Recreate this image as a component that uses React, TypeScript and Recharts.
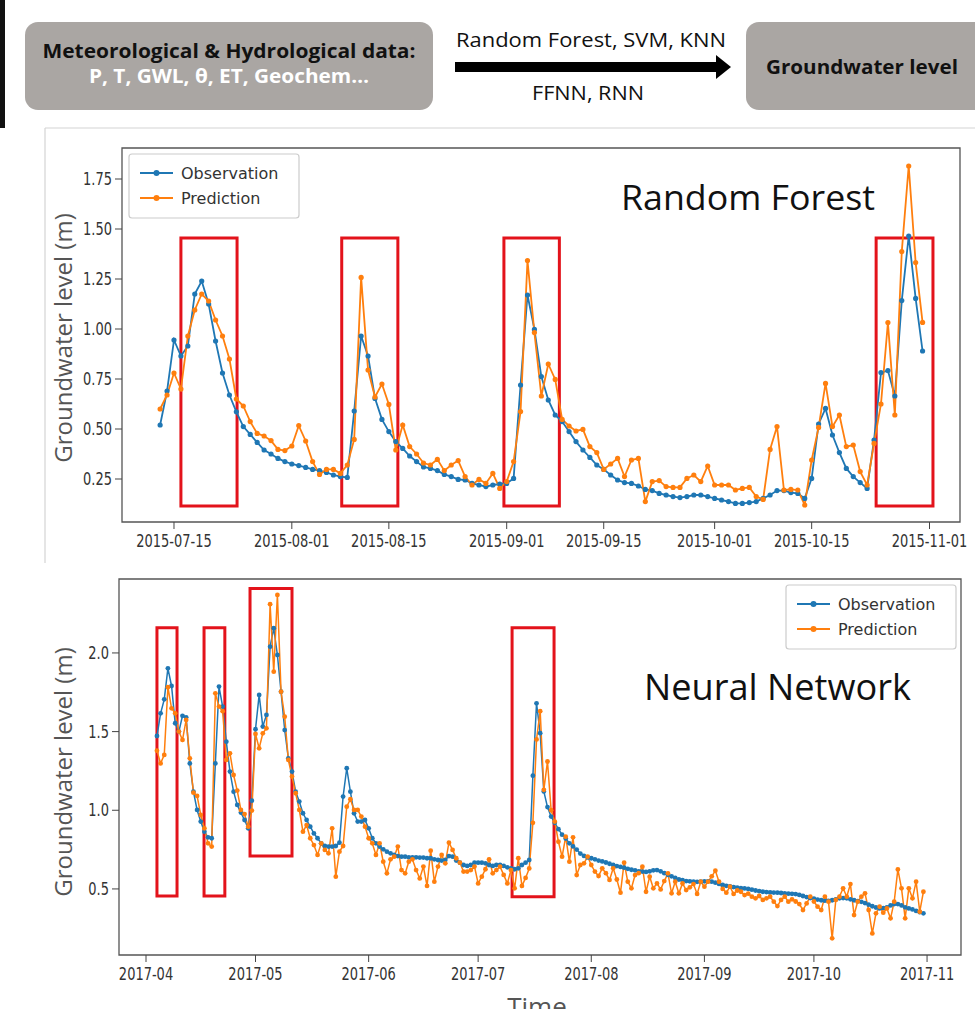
import React from "react";
import { LineChart, Line, XAxis, YAxis, ReferenceArea } from "recharts";

const DAY = 86400000;
const dayNum = (s: string) => Date.parse(s + "T00:00:00Z") / DAY;

const BLUE = "#1f77b4";
const ORANGE = "#ff7f0e";
const RED = "#e3131b";
const MPL = "'DejaVu Sans', sans-serif";
const SANS = "'Open Sans', sans-serif";

// ---- Random Forest panel (daily, from 2015-07-13) ----
const rfStart = "2015-07-13";
const rfObs = [
  0.52, 0.69, 0.945, 0.865, 0.915, 1.175, 1.24, 1.125, 0.94, 0.78,
  0.67, 0.586, 0.512, 0.473, 0.433, 0.395, 0.375, 0.353, 0.337, 0.325,
  0.317, 0.308, 0.298, 0.292, 0.283, 0.27, 0.262, 0.258, 0.59, 0.965,
  0.865, 0.653, 0.548, 0.487, 0.437, 0.403, 0.365, 0.337, 0.31, 0.303,
  0.292, 0.273, 0.262, 0.248, 0.245, 0.228, 0.22, 0.212, 0.22, 0.225,
  0.228, 0.253, 0.72, 1.17, 0.998, 0.762, 0.645, 0.57, 0.537, 0.487,
  0.437, 0.395, 0.358, 0.32, 0.298, 0.27, 0.245, 0.232, 0.228, 0.215,
  0.198, 0.192, 0.178, 0.17, 0.162, 0.157, 0.162, 0.17, 0.17, 0.162,
  0.153, 0.145, 0.137, 0.128, 0.128, 0.132, 0.137, 0.153, 0.17, 0.192,
  0.192, 0.182, 0.178, 0.153, 0.253, 0.525, 0.603, 0.47, 0.382, 0.303,
  0.262, 0.232, 0.203, 0.445, 0.782, 0.792, 0.665, 1.142, 1.465, 1.153,
  0.89,
];
const rfPred = [
  0.6, 0.67, 0.78, 0.7, 0.965, 1.095, 1.175, 1.14, 1.045, 0.965,
  0.85, 0.65, 0.615, 0.537, 0.478, 0.465, 0.442, 0.398, 0.392, 0.415,
  0.517, 0.44, 0.337, 0.273, 0.298, 0.298, 0.278, 0.32, 0.448, 1.258,
  0.795, 0.66, 0.725, 0.623, 0.395, 0.52, 0.412, 0.375, 0.33, 0.32,
  0.348, 0.292, 0.32, 0.342, 0.262, 0.22, 0.248, 0.228, 0.278, 0.203,
  0.237, 0.337, 0.587, 1.342, 0.982, 0.665, 0.825, 0.748, 0.548, 0.515,
  0.49, 0.498, 0.412, 0.382, 0.298, 0.325, 0.353, 0.262, 0.345, 0.353,
  0.137, 0.237, 0.242, 0.212, 0.208, 0.208, 0.253, 0.27, 0.237, 0.315,
  0.22, 0.22, 0.22, 0.195, 0.203, 0.208, 0.162, 0.148, 0.398, 0.512,
  0.195, 0.198, 0.195, 0.12, 0.345, 0.508, 0.728, 0.512, 0.57, 0.412,
  0.42, 0.287, 0.22, 0.428, 0.625, 1.032, 0.57, 1.387, 1.815, 1.332,
  1.033,
];
const rfTicks = ["2015-07-15", "2015-08-01", "2015-08-15", "2015-09-01", "2015-09-15", "2015-10-01", "2015-10-15", "2015-11-01"];
const rfYTicks = [0.25, 0.5, 0.75, 1.0, 1.25, 1.5, 1.75];
// highlight windows: [days after 2015-07-15 from, to, level low, high]
const rfBoxes = [
  [1.0, 9.1, 0.115, 1.455],
  [24.2, 32.3, 0.115, 1.455],
  [47.6, 55.6, 0.115, 1.455],
  [101.3, 109.5, 0.115, 1.455],
];

// ---- Neural Network panel (daily, from 2017-04-04) ----
const nnStart = "2017-04-04";
const nnObs = [
  1.472, 1.616, 1.705, 1.902, 1.79, 1.553, 1.5, 1.6, 1.591, 1.298,
  1.118, 1.002, 0.928, 0.864, 0.828, 0.822, 1.298, 1.786, 1.659, 1.436,
  1.246, 1.118, 1.034, 0.985, 0.938, 0.885, 1.061, 1.515, 1.733, 1.532,
  1.606, 2.04, 2.157, 1.987, 1.754, 1.51, 1.33, 1.246, 1.118, 1.055,
  0.981, 0.938, 0.896, 0.853, 0.822, 0.79, 0.773, 0.769, 0.769, 0.773,
  0.794, 1.087, 1.267, 1.118, 0.981, 0.928, 0.928, 0.938, 0.885, 0.822,
  0.79, 0.769, 0.752, 0.737, 0.726, 0.716, 0.709, 0.705, 0.705, 0.701,
  0.701, 0.701, 0.699, 0.699, 0.695, 0.695, 0.688, 0.684, 0.68, 0.684,
  0.709, 0.705, 0.68, 0.667, 0.652, 0.646, 0.652, 0.667, 0.667, 0.667,
  0.663, 0.652, 0.646, 0.652, 0.652, 0.646, 0.637, 0.631, 0.625, 0.631,
  0.652, 0.667, 0.684, 1.22, 1.68, 1.49, 1.12, 1.02, 0.96, 0.92,
  0.88, 0.845, 0.82, 0.79, 0.77, 0.75, 0.725, 0.71, 0.7, 0.695,
  0.688, 0.68, 0.675, 0.668, 0.66, 0.652, 0.645, 0.64, 0.635, 0.628,
  0.622, 0.618, 0.612, 0.61, 0.608, 0.612, 0.618, 0.62, 0.612, 0.6,
  0.59, 0.58, 0.57, 0.56, 0.555, 0.55, 0.548, 0.546, 0.545, 0.546,
  0.548, 0.548, 0.546, 0.54, 0.532, 0.525, 0.52, 0.516, 0.512, 0.508,
  0.505, 0.503, 0.5, 0.495, 0.49, 0.486, 0.482, 0.48, 0.478, 0.477,
  0.476, 0.474, 0.472, 0.47, 0.469, 0.467, 0.462, 0.455, 0.448, 0.442,
  0.438, 0.432, 0.428, 0.425, 0.424, 0.428, 0.434, 0.44, 0.442, 0.44,
  0.434, 0.428, 0.422, 0.418, 0.41, 0.4, 0.39, 0.382, 0.376, 0.378,
  0.383, 0.395, 0.404, 0.404, 0.395, 0.383, 0.376, 0.37, 0.36, 0.352,
  0.345,
];
const nnPred = [
  1.379, 1.298, 1.352, 1.782, 1.648, 1.616, 1.5, 1.447, 1.574, 1.33,
  1.112, 1.091, 0.97, 0.885, 0.79, 0.769, 1.743, 1.659, 1.63, 1.32,
  1.362, 1.224, 1.125, 1.002, 0.976, 0.896, 0.998, 1.485, 1.394, 1.489,
  1.521, 2.31, 1.881, 2.369, 1.754, 1.595, 1.32, 1.214, 1.108, 1.002,
  0.864, 0.906, 0.822, 0.779, 0.716, 0.79, 0.748, 0.726, 0.885, 0.578,
  0.737, 0.773, 1.023, 1.07, 1.002, 1.002, 0.96, 0.896, 0.822, 0.79,
  0.716, 0.79, 0.673, 0.599, 0.688, 0.705, 0.769, 0.62, 0.599, 0.673,
  0.688, 0.62, 0.567, 0.642, 0.519, 0.743, 0.546, 0.642, 0.716, 0.663,
  0.794, 0.748, 0.695, 0.667, 0.61, 0.61, 0.62, 0.642, 0.535, 0.578,
  0.625, 0.688, 0.599, 0.62, 0.642, 0.589, 0.535, 0.62, 0.504, 0.695,
  0.519, 0.57, 0.63, 0.92, 1.45, 1.63, 1.13, 1.31, 1.0, 0.928,
  0.8, 0.705, 0.832, 0.673, 0.828, 0.588, 0.652, 0.663, 0.705, 0.652,
  0.61, 0.582, 0.631, 0.6, 0.557, 0.631, 0.56, 0.476, 0.667, 0.546,
  0.504, 0.588, 0.6, 0.641, 0.482, 0.578, 0.504, 0.535, 0.497, 0.55,
  0.599, 0.472, 0.546, 0.472, 0.535, 0.493, 0.51, 0.531, 0.468, 0.546,
  0.514, 0.546, 0.58, 0.616, 0.546, 0.5, 0.476, 0.514, 0.468, 0.49,
  0.482, 0.461, 0.47, 0.451, 0.44, 0.455, 0.43, 0.44, 0.451, 0.419,
  0.391, 0.43, 0.451, 0.419, 0.434, 0.42, 0.404, 0.366, 0.408, 0.451,
  0.42, 0.387, 0.366, 0.451, 0.419, 0.186, 0.43, 0.451, 0.504, 0.451,
  0.531, 0.334, 0.419, 0.451, 0.472, 0.366, 0.217, 0.345, 0.387, 0.349,
  0.376, 0.313, 0.419, 0.624, 0.504, 0.313, 0.504, 0.44, 0.546, 0.355,
  0.482,
];
const nnTicks = ["2017-04", "2017-05", "2017-06", "2017-07", "2017-08", "2017-09", "2017-10", "2017-11"];
const nnYTicks = [0.5, 1.0, 1.5, 2.0];
// highlight windows: [days after 2017-04-01 from, to, level low, high]
const nnBoxes = [
  [3.0, 8.5, 0.455, 2.16],
  [15.9, 21.6, 0.455, 2.16],
  [28.5, 40.0, 0.71, 2.41],
  [100.3, 111.8, 0.45, 2.16],
];

const build = (start: string, obs: number[], pred: number[]) =>
  obs.map((v, i) => ({ t: dayNum(start) + i, obs: v, pred: pred[i] }));

const rfData = build(rfStart, rfObs, rfPred);
const nnData = build(nnStart, nnObs, nnPred);

function XTick(props: any) {
  const { x, y, payload, fmt } = props;
  return (
    <g transform={`translate(${x},${y})`}>
      <text transform="scale(1,1.3)" textAnchor="middle" dy="0.72em" fontSize={13} fill="#333" fontFamily={MPL}>
        {fmt(payload.value)}
      </text>
    </g>
  );
}

function YTick(props: any) {
  const { x, y, payload, fmt } = props;
  return (
    <g transform={`translate(${x},${y})`}>
      <text transform="scale(1,1.3)" textAnchor="end" dy="0.36em" fontSize={13} fill="#333" fontFamily={MPL}>
        {fmt(payload.value)}
      </text>
    </g>
  );
}

function Panel(p: any) {
  const { data, height, margin, yw, xh, xDomain, xTicks, xFmt, yDomain, yTicks, yFmt, boxes, boxBase, sw, r } = p;
  return (
    <LineChart width={975} height={height} data={data} margin={margin}>
      <XAxis
        dataKey="t"
        type="number"
        domain={xDomain}
        allowDataOverflow
        ticks={xTicks}
        interval={0}
        height={xh}
        axisLine={false}
        tickSize={7}
        tickMargin={6}
        tickLine={{ stroke: "#444" }}
        tick={(tp: any) => <XTick {...tp} fmt={xFmt} />}
      />
      <YAxis
        type="number"
        domain={yDomain}
        allowDataOverflow
        ticks={yTicks}
        interval={0}
        width={yw}
        axisLine={false}
        tickSize={7}
        tickMargin={3}
        tickLine={{ stroke: "#444" }}
        tick={(tp: any) => <YTick {...tp} fmt={yFmt} />}
      />
      <ReferenceArea
        x1={xDomain[0]}
        x2={xDomain[1]}
        y1={yDomain[0]}
        y2={yDomain[1]}
        fill="none"
        stroke="#555"
        strokeWidth={1.3}
        ifOverflow="visible"
      />
      <Line type="linear" dataKey="obs" stroke={BLUE} strokeWidth={sw} dot={{ r, fill: BLUE, stroke: "none" }} activeDot={false} isAnimationActive={false} />
      <Line type="linear" dataKey="pred" stroke={ORANGE} strokeWidth={sw} dot={{ r, fill: ORANGE, stroke: "none" }} activeDot={false} isAnimationActive={false} />
      {boxes.map((b: number[], i: number) => (
        <ReferenceArea
          key={i}
          x1={boxBase + b[0]}
          x2={boxBase + b[1]}
          y1={b[2]}
          y2={b[3]}
          fill="none"
          stroke={RED}
          strokeWidth={3}
          ifOverflow="visible"
        />
      ))}
    </LineChart>
  );
}

function LegendBox({ x, y }: { x: number; y: number }) {
  const rows = [
    { label: "Observation", color: BLUE, dy: 19 },
    { label: "Prediction", color: ORANGE, dy: 44 },
  ];
  return (
    <g>
      <rect x={x} y={y} width={170} height={64} rx={3} fill="#fff" fillOpacity={0.85} stroke="#ccc" strokeWidth={1.2} />
      {rows.map((row) => (
        <g key={row.label}>
          <line x1={x + 11} x2={x + 44} y1={y + row.dy} y2={y + row.dy} stroke={row.color} strokeWidth={2.2} />
          <circle cx={x + 27.5} cy={y + row.dy} r={3} fill={row.color} />
          <text x={x + 52} y={y + row.dy} dominantBaseline="central" fontSize={16} fill="#333" fontFamily={MPL}>
            {row.label}
          </text>
        </g>
      ))}
    </g>
  );
}

export default function App() {
  const rfBase = dayNum("2015-07-15");
  const nnBase = dayNum("2017-04-01");
  return (
    <div style={{ position: "absolute", left: 0, top: 0, width: 975, height: 1009, overflow: "hidden", background: "#fff" }}>
      <div style={{ position: "absolute", left: 0, top: 0 }}>
        <Panel
          data={rfData}
          height={565}
          margin={{ top: 148, right: 15, bottom: 0, left: 0 }}
          yw={122}
          xh={43}
          xDomain={[rfBase - 7.5, rfBase + 113.4]}
          xTicks={rfTicks.map(dayNum)}
          xFmt={(v: number) => new Date(v * DAY).toISOString().slice(0, 10)}
          yDomain={[0.035, 1.905]}
          yTicks={rfYTicks}
          yFmt={(v: number) => v.toFixed(2)}
          boxes={rfBoxes}
          boxBase={rfBase}
          sw={1.8}
          r={2.6}
        />
      </div>
      <div style={{ position: "absolute", left: 0, top: 565 }}>
        <Panel
          data={nnData}
          height={444}
          margin={{ top: 14, right: 14, bottom: 0, left: 0 }}
          yw={119}
          xh={54}
          xDomain={[nnBase - 7.4, nnBase + 223.3]}
          xTicks={nnTicks.map((m) => dayNum(m + "-01"))}
          xFmt={(v: number) => new Date(v * DAY).toISOString().slice(0, 7)}
          yDomain={[0.08, 2.47]}
          yTicks={nnYTicks}
          yFmt={(v: number) => v.toFixed(1)}
          boxes={nnBoxes}
          boxBase={nnBase}
          sw={1.5}
          r={2.4}
        />
      </div>
      <svg width={975} height={1009} style={{ position: "absolute", left: 0, top: 0, pointerEvents: "none" }}>
        {/* flowchart */}
        <rect x={0} y={0} width={5} height={128} fill="#111" />
        <rect x={25} y={22} width={408} height={88} rx={13} fill="#aaa6a3" />
        <rect x={746} y={22} width={260} height={88} rx={13} fill="#aaa6a3" />
        <text x={229} y={58} textAnchor="middle" fontFamily={SANS} fontWeight={700} fontSize={20} fill="#111" textLength={373} lengthAdjust="spacingAndGlyphs">
          Meteorological &amp; Hydrological data:
        </text>
        <text x={229} y={83} textAnchor="middle" fontFamily={SANS} fontWeight={700} fontSize={20} fill="#fff" textLength={280} lengthAdjust="spacingAndGlyphs">
          P, T, GWL, θ, ET, Geochem…
        </text>
        <text x={862} y={74} textAnchor="middle" fontFamily={SANS} fontWeight={700} fontSize={20} fill="#111" textLength={192} lengthAdjust="spacingAndGlyphs">
          Groundwater level
        </text>
        <text x={591} y={47} textAnchor="middle" fontFamily={SANS} fontSize={20} fill="#111" textLength={270} lengthAdjust="spacingAndGlyphs">
          Random Forest, SVM, KNN
        </text>
        <text x={588} y={100} textAnchor="middle" fontFamily={SANS} fontSize={20} fill="#111" textLength={112} lengthAdjust="spacingAndGlyphs">
          FFNN, RNN
        </text>
        <rect x={455} y={62} width={264} height={10} fill="#000" />
        <polygon points="716,55 731,67 716,79" fill="#000" />
        {/* panel border of the upper screenshot */}
        <line x1={45} x2={975} y1={128} y2={128} stroke="#d4d4d4" strokeWidth={1.2} />
        <line x1={45} x2={45} y1={128} y2={563} stroke="#d4d4d4" strokeWidth={1.2} />

        {/* panel annotations */}
        <text x={62} y={338} transform="rotate(-90 62 338)" textAnchor="middle" dominantBaseline="central" fontFamily={SANS} fontSize={24} fill="#555">
          Groundwater level (m)
        </text>
        <text x={62} y={772} transform="rotate(-90 62 772)" textAnchor="middle" dominantBaseline="central" fontFamily={SANS} fontSize={24} fill="#555">
          Groundwater level (m)
        </text>
        <text x={621} y={210} fontFamily={SANS} fontSize={35} fill="#111" textLength={254} lengthAdjust="spacingAndGlyphs">
          Random Forest
        </text>
        <text x={644} y={700} fontFamily={SANS} fontSize={37} fill="#111" textLength={267} lengthAdjust="spacingAndGlyphs">
          Neural Network
        </text>
        <text x={537} y={1016} textAnchor="middle" fontFamily={SANS} fontSize={26} fill="#555">
          Time
        </text>
        <LegendBox x={129} y={154} />
        <LegendBox x={786} y={585} />
      </svg>
    </div>
  );
}
